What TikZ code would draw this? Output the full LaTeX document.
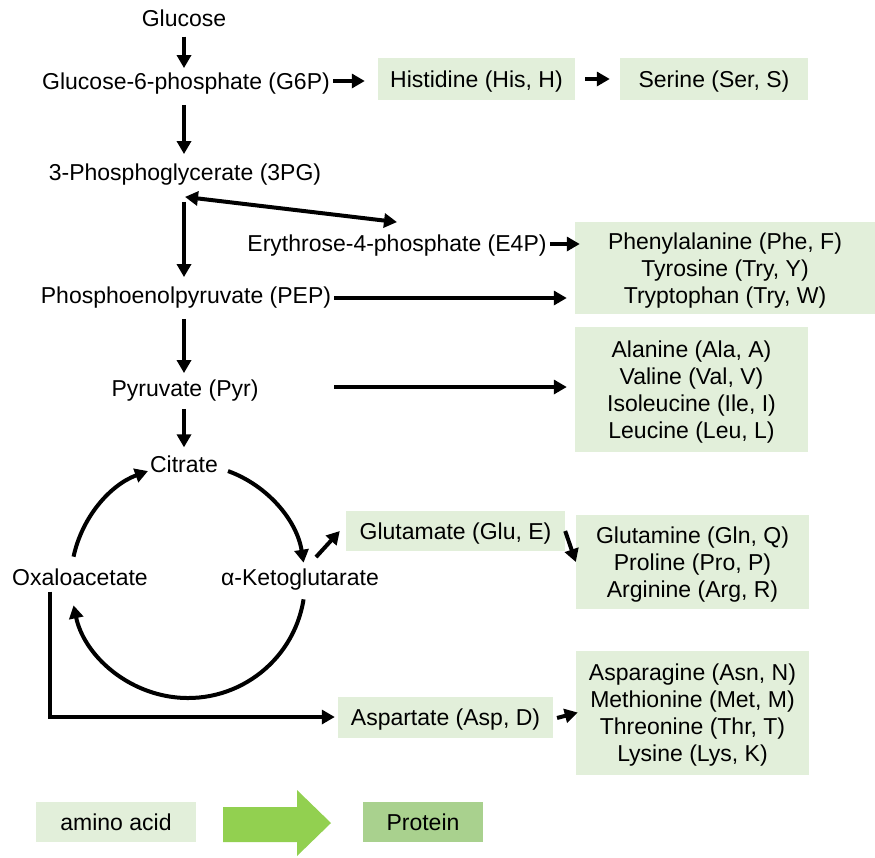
\documentclass[tikz,border=0pt]{standalone}
\usepackage{fontspec}
\setmainfont{Liberation Sans}
\usetikzlibrary{arrows.meta}
\definecolor{aagreen}{HTML}{E2EFDA}
\definecolor{protgreen}{HTML}{A9D18E}
\definecolor{arrowgreen}{HTML}{92D050}

\begin{document}
\begin{tikzpicture}[x=1pt,y=1pt,>={Triangle[length=13pt,width=14pt]},
    every node/.style={font=\fontsize{23}{27}\selectfont},
    met/.style={inner sep=0pt},
    aa/.style={fill=aagreen,inner sep=0pt,align=center,text depth=0pt},
    arr/.style={->,line width=4pt,shorten <=10pt,shorten >=10pt}]
\useasboundingbox (0,0) rectangle (875,-857);

\node[met] (glc) at (184,-18) {Glucose};
\node[met] (g6p) at (186,-84) {Glucose-6-phosphate (G6P)};
\node[aa,minimum width=197pt,minimum height=42pt] (his) at (476.5,-79) {Histidine (His, H)};
\node[aa,minimum width=188pt,minimum height=42pt] (ser) at (714,-79) {Serine (Ser, S)};
\node[met] (pg3) at (185,-175) {3-Phosphoglycerate (3PG)};
\node[met] (e4p) at (397,-246) {Erythrose-4-phosphate (E4P)};
\node[aa,minimum width=300pt,minimum height=92pt] (phe) at (725,-268) {Phenylalanine (Phe, F)\\Tyrosine (Try, Y)\\Tryptophan (Try, W)};
\node[met] (pep) at (186,-298) {Phosphoenolpyruvate (PEP)};
\node[met] (pyr) at (185,-391) {Pyruvate (Pyr)};
\node[aa,minimum width=233pt,minimum height=125pt] (ala) at (691.5,-389.5) {Alanine (Ala, A)\\Valine (Val, V)\\Isoleucine (Ile, I)\\Leucine (Leu, L)};
\node[met] (cit) at (184,-464) {Citrate};
\node[met] (oaa) at (80,-577) {Oxaloacetate};
\node[met] (akg) at (300,-580) {α-Ketoglutarate};
\node[aa,minimum width=219pt,minimum height=40pt] (glu) at (455.5,-531) {Glutamate (Glu, E)};
\node[aa,minimum width=233pt,minimum height=94pt] (gln) at (692.5,-562) {Glutamine (Gln, Q)\\Proline (Pro, P)\\Arginine (Arg, R)};
\node[aa,minimum width=215pt,minimum height=41pt] (asp) at (445.5,-717) {Aspartate (Asp, D)};
\node[aa,minimum width=233pt,minimum height=124pt] (asn) at (692.5,-713) {Asparagine (Asn, N)\\Methionine (Met, M)\\Threonine (Thr, T)\\Lysine (Lys, K)};
\node[aa,minimum width=160pt,minimum height=40pt] (amino) at (116,-822) {amino acid};
\node[aa,fill=protgreen,minimum width=120pt,minimum height=40pt] (prot) at (423,-822) {Protein};

\draw[arr,shorten >=5pt] (glc.south) -- (glc.south |- g6p.north);
\draw[arr] (g6p.south -| glc) -- (glc |- pg3.north);
\draw[arr,shorten <=3pt,shorten >=13pt] ([yshift=3pt]g6p.east) -- ([yshift=3pt]g6p.east -| his.west);
\draw[arr] (his) -- (ser);
\draw[arr,<->,shorten <=0pt,shorten >=0pt] ([yshift=-11pt]pg3.south) -- ([yshift=13pt]e4p.north);
\draw[arr,shorten <=16pt] (pg3.south -| glc) -- (glc |- pep.north);
\draw[arr,shorten <=3pt,shorten >=-5pt] ([yshift=2pt]e4p.east) -- ([yshift=2pt]e4p.east -| phe.west);
\draw[arr,shorten <=3pt,shorten >=8pt] (pep.east) -- (pep.east -| phe.west);
\draw[arr,shorten <=10pt,shorten >=7pt] (pep.south -| glc) -- (glc |- pyr.north);
\draw[arr,shorten <=3pt,shorten >=8pt] ([yshift=4pt]pyr -| pep.east) -- ([yshift=4pt]pyr -| ala.west);
\draw[arr,shorten <=7pt,shorten >=8pt] (pyr.south -| glc) -- (glc |- cit.north);

\coordinate (cyc) at (188,-581);
\draw[arr,shorten <=0pt,shorten >=0pt] ([shift={(168:117)}]cyc) arc[start angle=168,end angle=110,radius=117];
\draw[arr,shorten <=0pt,shorten >=0pt] ([shift={(70:117)}]cyc) arc[start angle=70,end angle=9,radius=117];
\draw[arr,shorten <=0pt,shorten >=0pt] ([shift={(-9:117)}]cyc) arc[start angle=-9,end angle=-168,radius=117];

\draw[arr,shorten <=0pt,shorten >=0pt] ([shift={(16pt,12pt)}]akg.north) -- ([xshift=-6pt]glu.west);
\draw[arr,shorten <=0pt,shorten >=0pt] (glu.east) -- (gln.west);
\draw[arr,shorten <=6pt,shorten >=3pt] ([xshift=-30pt]oaa.south) |- (asp.west);
\draw[arr,shorten <=4pt,shorten >=-2pt] ([yshift=-2pt]asp.east) -- (asn.west);

\fill[arrowgreen] (223,-807) -- (297,-807) -- (297,-790) -- (331,-823) -- (297,-856) -- (297,-842) -- (223,-842) -- cycle;
\end{tikzpicture}
\end{document}
